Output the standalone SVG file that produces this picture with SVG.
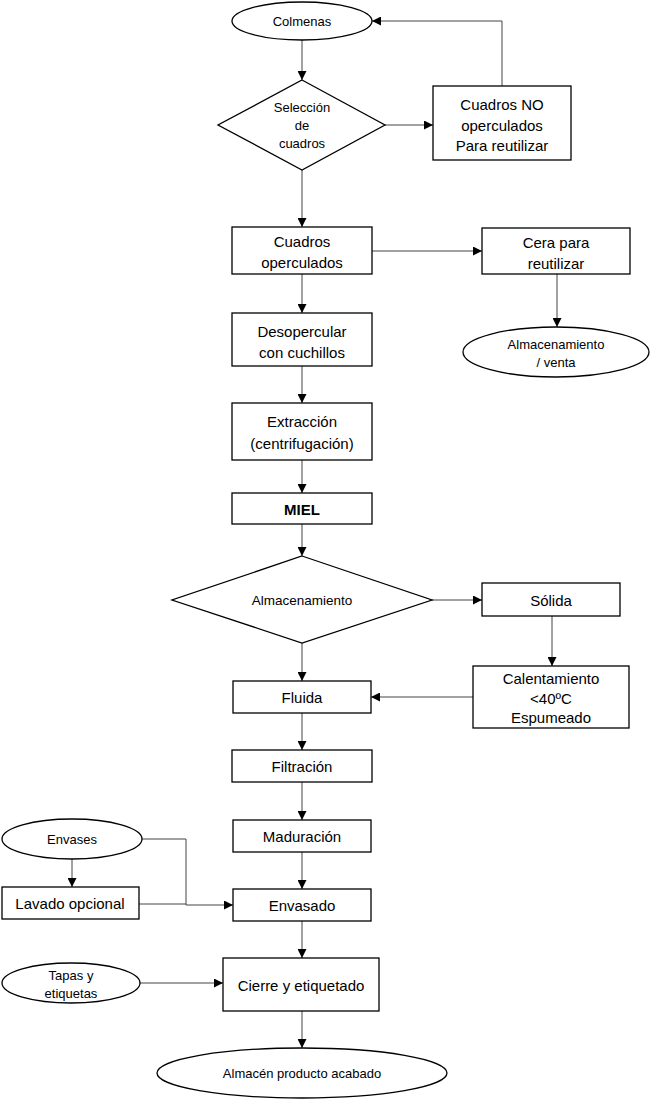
<svg xmlns="http://www.w3.org/2000/svg" width="650" height="1100" viewBox="0 0 650 1100">
<style>
.n{fill:#fff;stroke:#000;stroke-width:1.3}
.t{font-family:"Liberation Sans",Arial,sans-serif;font-size:15px;fill:#000;text-anchor:middle;dominant-baseline:central}
.s{font-size:13px}
.c{fill:none;stroke:#444;stroke-width:1}
</style>
<defs>
<marker id="a" viewBox="0 0 10 10" refX="10" refY="5" markerWidth="9" markerHeight="9" markerUnits="userSpaceOnUse" orient="auto"><path d="M0,0L10,5L0,10z" fill="#000"/></marker>
</defs>
<rect width="650" height="1100" fill="#fff"/>
<g id="connectors">
<path class="c" d="M302,40V80" marker-end="url(#a)"/>
<path class="c" d="M385,125H433" marker-end="url(#a)"/>
<path class="c" d="M502,86V21H372" marker-end="url(#a)"/>
<path class="c" d="M302,170V227" marker-end="url(#a)"/>
<path class="c" d="M372,251H482" marker-end="url(#a)"/>
<path class="c" d="M557,274V327" marker-end="url(#a)"/>
<path class="c" d="M302,274V313" marker-end="url(#a)"/>
<path class="c" d="M302,366V403" marker-end="url(#a)"/>
<path class="c" d="M302,460V493" marker-end="url(#a)"/>
<path class="c" d="M302,524V556" marker-end="url(#a)"/>
<path class="c" d="M432,600H482" marker-end="url(#a)"/>
<path class="c" d="M552,616V666" marker-end="url(#a)"/>
<path class="c" d="M473,697H371" marker-end="url(#a)"/>
<path class="c" d="M302,643V681" marker-end="url(#a)"/>
<path class="c" d="M302,713V750" marker-end="url(#a)"/>
<path class="c" d="M302,782V820" marker-end="url(#a)"/>
<path class="c" d="M302,852V889" marker-end="url(#a)"/>
<path class="c" d="M72,859V887" marker-end="url(#a)"/>
<path class="c" d="M142,839H186V905H233" marker-end="url(#a)"/>
<path class="c" d="M139,904H186"/>
<path class="c" d="M302,921V958" marker-end="url(#a)"/>
<path class="c" d="M140,983H223" marker-end="url(#a)"/>
<path class="c" d="M302,1011V1048" marker-end="url(#a)"/>
</g>
<g id="colmenas"><ellipse class="n" cx="302" cy="21" rx="70" ry="19"/><text class="t s" x="302" y="21">Colmenas</text></g>
<g id="seleccion"><path class="n" d="M302,80L385,125L302,170L218,125z"/><text class="t s" x="302" y="107">Selección</text><text class="t s" x="302" y="125">de</text><text class="t s" x="302" y="143">cuadros</text></g>
<g id="no-operculados"><rect class="n" x="433" y="86" width="138" height="74"/><text class="t" x="502" y="104">Cuadros NO</text><text class="t" x="502" y="125">operculados</text><text class="t" x="502" y="145">Para reutilizar</text></g>
<g id="operculados"><rect class="n" x="232" y="227" width="140" height="47"/><text class="t" x="302" y="241">Cuadros</text><text class="t" x="302" y="262">operculados</text></g>
<g id="cera"><rect class="n" x="482" y="228" width="148" height="46"/><text class="t" x="556" y="242">Cera para</text><text class="t" x="556" y="263">reutilizar</text></g>
<g id="almac-venta"><ellipse class="n" cx="556" cy="352" rx="93" ry="25"/><text class="t s" x="556" y="344">Almacenamiento</text><text class="t s" x="556" y="362">/ venta</text></g>
<g id="desopercular"><rect class="n" x="232" y="313" width="140" height="53"/><text class="t" x="302" y="331">Desopercular</text><text class="t" x="302" y="352">con cuchillos</text></g>
<g id="extraccion"><rect class="n" x="232" y="403" width="140" height="57"/><text class="t" x="302" y="421">Extracción</text><text class="t" x="302" y="443">(centrifugación)</text></g>
<g id="miel"><rect class="n" x="232" y="493" width="140" height="31"/><text class="t" x="302" y="509" font-weight="bold">MIEL</text></g>
<g id="almacenamiento"><path class="n" d="M302,556L432,600L302,643L172,600z"/><text class="t s" x="302" y="600" style="font-size:13.5px">Almacenamiento</text></g>
<g id="solida"><rect class="n" x="482" y="583" width="138" height="33"/><text class="t" x="551" y="600">Sólida</text></g>
<g id="calentamiento"><rect class="n" x="473" y="666" width="156" height="62"/><text class="t" x="551" y="678">Calentamiento</text><text class="t" x="551" y="698">&lt;40ºC</text><text class="t" x="551" y="717">Espumeado</text></g>
<g id="fluida"><rect class="n" x="233" y="681" width="138" height="32"/><text class="t" x="302" y="697">Fluida</text></g>
<g id="filtracion"><rect class="n" x="232" y="750" width="140" height="32"/><text class="t" x="302" y="766">Filtración</text></g>
<g id="maduracion"><rect class="n" x="233" y="820" width="138" height="32"/><text class="t" x="302" y="836">Maduración</text></g>
<g id="envases"><ellipse class="n" cx="72" cy="839" rx="70" ry="20"/><text class="t s" x="72" y="839">Envases</text></g>
<g id="lavado"><rect class="n" x="2" y="887" width="137" height="32"/><text class="t" x="70" y="903">Lavado opcional</text></g>
<g id="envasado"><rect class="n" x="233" y="889" width="138" height="32"/><text class="t" x="302" y="905">Envasado</text></g>
<g id="tapas"><ellipse class="n" cx="71" cy="983" rx="69" ry="20"/><text class="t s" x="71" y="975">Tapas y</text><text class="t s" x="71" y="993">etiquetas</text></g>
<g id="cierre"><rect class="n" x="223" y="958" width="156" height="53"/><text class="t" x="301" y="985">Cierre y etiquetado</text></g>
<g id="almacen-final"><ellipse class="n" cx="302" cy="1073" rx="145" ry="25"/><text class="t s" x="302" y="1073">Almacén producto acabado</text></g>
</svg>
